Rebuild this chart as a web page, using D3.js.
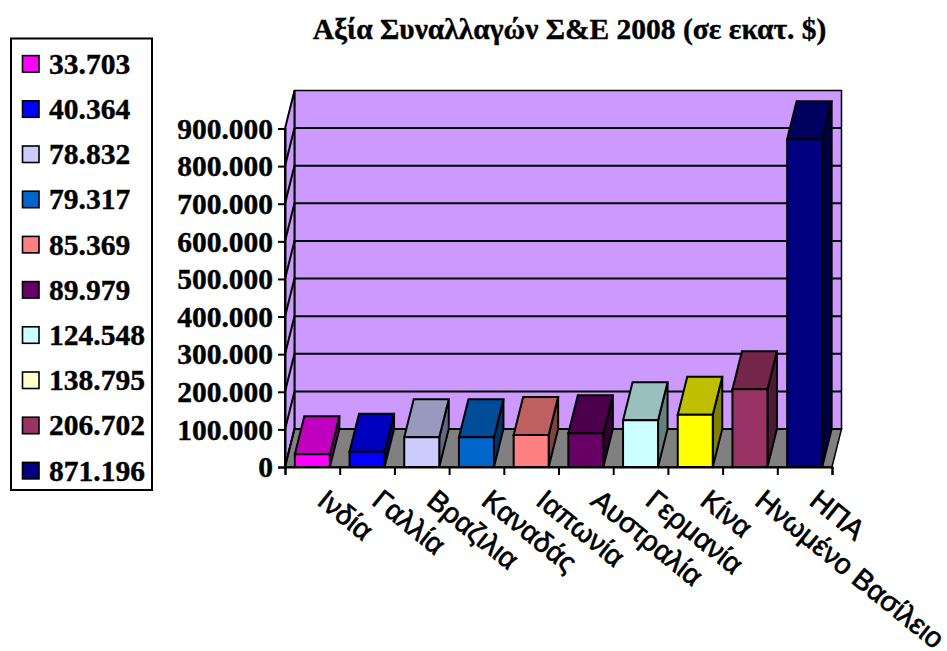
<!DOCTYPE html>
<html lang="el">
<head>
<meta charset="utf-8">
<title>Αξία Συναλλαγών Σ&amp;Ε 2008</title>
<script src="https://cdn.jsdelivr.net/npm/d3@7"></script>
<style>
  html, body { margin: 0; padding: 0; background: #fff; overflow: hidden; }
  svg { display: block; }
  .serif { font-family: "Liberation Serif", "Times New Roman", serif; font-weight: bold; fill: #000; stroke: #000; stroke-width: 0.4px; }
  .sans { font-family: "Liberation Sans", Arial, sans-serif; fill: #000; }
</style>
</head>
<body>
<svg id="chart" width="947" height="651"></svg>
<script>
// Deal values per country, sorted ascending
const countries = ["Ινδία", "Γαλλία", "Βραζιλια", "Καναδάς", "Ιαπωνία", "Αυστραλία", "Γερμανία", "Κίνα", "Ηνωμένο Βασίλειο", "ΗΠΑ"];
const values = [33703, 40364, 78832, 79317, 85369, 89979, 124548, 138795, 206702, 871196];
const legendColors = ["#FF00FF", "#0000FF", "#CCCCFF", "#0066CC", "#FF8080", "#660066", "#CCFFFF", "#FFFFCC", "#993366", "#000080"];
const frontColors = ["#FF00FF", "#0000FF", "#CCCCFF", "#0066CC", "#FF8080", "#660066", "#CCFFFF", "#FFFF00", "#993366", "#000080"];
const topColors = ["#BF00BF", "#0000BF", "#9999BF", "#004C99", "#BF6060", "#4C004C", "#99BFBF", "#BFBF00", "#732649", "#000060"];
const sideColors = ["#800080", "#000080", "#666680", "#003366", "#804040", "#330033", "#668080", "#808000", "#4C1A33", "#000040"];
const yTicks = [0, 100000, 200000, 300000, 400000, 500000, 600000, 700000, 800000, 900000];
const titleText = "Αξία Συναλλαγών Σ&Ε 2008 (σε εκατ. $)";

const svg = d3.select("#chart");
const locale = d3.formatLocale({ decimal: ",", thousands: ".", grouping: [3], currency: ["", "$"] });
const fmt = locale.format(",d");

// Oblique projection of the 3-D box: depth shifts right and up
const depth = { x: 9.5, y: -38 };
const x = d3.scaleBand().domain(countries).range([285, 832]).paddingInner(0.36).paddingOuter(0.18);
const y = d3.scaleLinear().domain([0, 900000]).range([467, 128.5]);
const x0 = x.range()[0], x1 = x.range()[1];
const poly = pts => pts.map(p => p.join(",")).join(" ");
const edge = { stroke: "#000", "stroke-width": 2, "stroke-linejoin": "miter" };
const applyAttrs = (sel, attrs) => { Object.entries(attrs).forEach(([k, v]) => sel.attr(k, v)); return sel; };

// Title
svg.append("text").attr("class", "serif")
  .attr("x", 569.5).attr("y", 39).attr("text-anchor", "middle")
  .attr("font-size", 29.5).text(titleText);

// Walls and floor
const wall = svg.append("g");
applyAttrs(wall.append("polygon").attr("points", poly([
  [x0 + depth.x, y(0) + depth.y], [x1 + depth.x, y(0) + depth.y],
  [x1 + depth.x, y(900000) + depth.y], [x0 + depth.x, y(900000) + depth.y]
])).attr("fill", "#CC99FF"), { stroke: "#000", "stroke-width": 1.5 });
applyAttrs(wall.append("polygon").attr("points", poly([
  [x0, y(0)], [x0 + depth.x, y(0) + depth.y],
  [x0 + depth.x, y(900000) + depth.y], [x0, y(900000)]
])).attr("fill", "#CC99FF"), edge);
applyAttrs(wall.append("polygon").attr("points", poly([
  [x0, y(0)], [x1, y(0)], [x1 + depth.x, y(0) + depth.y], [x0 + depth.x, y(0) + depth.y]
])).attr("fill", "#808080"), { stroke: "#000", "stroke-width": 1.5 });

// Gridlines on the back wall and their continuation on the side wall
const grid = wall.append("g").attr("stroke", "#000").attr("stroke-width", 2).attr("fill", "none");
grid.selectAll("path").data(yTicks.slice(1, -1).concat([0]))
  .join("path")
  .attr("d", d => `M${x0},${y(d)}L${x0 + depth.x},${y(d) + depth.y}L${x1 + depth.x},${y(d) + depth.y}`);

// Bars: side, top, then front face
const bars = svg.append("g").selectAll("g").data(countries).join("g");
const w = x.bandwidth();
bars.each(function (c, i) {
  const g = d3.select(this);
  const l = x(c), r = l + w, t = y(values[i]), b = y(0);
  applyAttrs(g.append("polygon").attr("points", poly([
    [r, b], [r + depth.x, b + depth.y], [r + depth.x, t + depth.y], [r, t]
  ])).attr("fill", sideColors[i]), edge);
  applyAttrs(g.append("polygon").attr("points", poly([
    [l, t], [r, t], [r + depth.x, t + depth.y], [l + depth.x, t + depth.y]
  ])).attr("fill", topColors[i]), edge);
  applyAttrs(g.append("polygon").attr("points", poly([
    [l, b], [r, b], [r, t], [l, t]
  ])).attr("fill", frontColors[i]), edge);
});

// Value axis
const yAxis = svg.append("g").attr("transform", `translate(${x0},0)`)
  .call(d3.axisLeft(y).tickValues(yTicks).tickFormat(fmt).tickSize(7).tickPadding(5));
yAxis.select(".domain").attr("stroke-width", 2).attr("stroke", "#000");
yAxis.selectAll("line").attr("stroke-width", 2).attr("stroke", "#000");
yAxis.selectAll("text").attr("class", "serif").attr("font-size", 29.5).attr("dy", "0.33em");

// Category axis with slanted labels
const xTickScale = d3.scaleLinear().domain([0, countries.length]).range([x0, x1]);
const xAxis = svg.append("g").attr("transform", `translate(0,${y(0)})`)
  .call(d3.axisBottom(xTickScale).tickValues(d3.range(countries.length + 1)).tickSize(8).tickFormat(""));
xAxis.select(".domain").attr("stroke-width", 2).attr("stroke", "#000");
xAxis.selectAll("line").attr("stroke-width", 2).attr("stroke", "#000");

svg.append("g").selectAll("text").data(countries).join("text")
  .attr("class", "sans")
  .attr("font-size", 28.5)
  .attr("stroke", "#000").attr("stroke-width", 0.7)
  .attr("transform", d => `translate(${x(d) + w / 2 + 16},488) rotate(39)`)
  .attr("dy", "0.7em")
  .text(d => d);

// Legend
const legendY = d3.scaleBand().domain(values).range([41.5, 493.5]);
const legend = svg.append("g");
applyAttrs(legend.append("rect")
  .attr("x", 11).attr("y", 38.5).attr("width", 141).attr("height", 451.5)
  .attr("fill", "#fff"), { stroke: "#000", "stroke-width": 2 });
const rows = legend.selectAll("g").data(values).join("g")
  .attr("transform", d => `translate(0,${legendY(d) + legendY.bandwidth() / 2})`);
rows.append("rect")
  .attr("x", 22.5).attr("y", -8.5).attr("width", 16.5).attr("height", 16.5)
  .attr("fill", (d, i) => legendColors[i])
  .attr("stroke", "#000").attr("stroke-width", 1.6);
rows.append("text").attr("class", "serif")
  .attr("x", 49).attr("dy", "0.33em")
  .attr("font-size", 29.5)
  .text(d => fmt(d));
</script>
</body>
</html>
